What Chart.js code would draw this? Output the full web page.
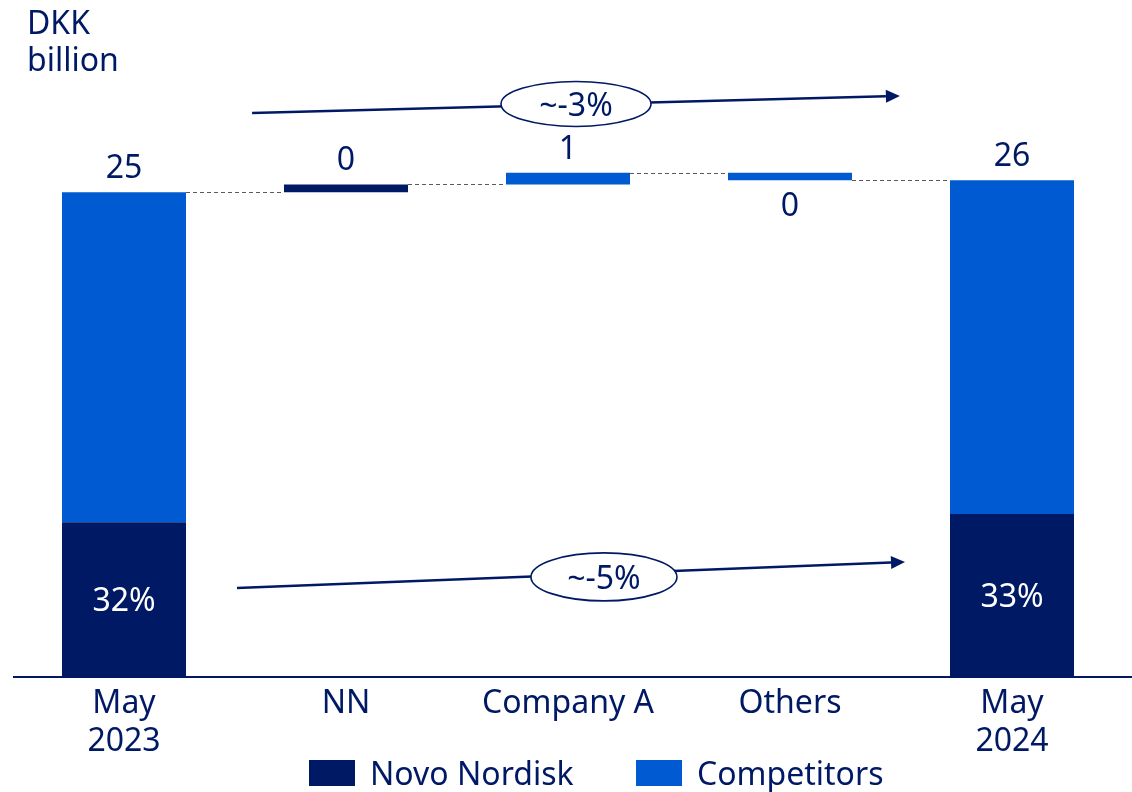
<!DOCTYPE html>
<html><head><meta charset="utf-8">
<script src="https://cdn.jsdelivr.net/npm/chart.js@4/dist/chart.umd.min.js"></script>
<style>
html,body{margin:0;padding:0;background:#fff;}
#wrap{position:relative;width:1132px;height:792px;font-family:'Noto Sans',sans-serif;color:#001965;overflow:hidden;}
#unit{position:absolute;left:27px;top:3px;font-size:32px;line-height:37px;}
.leg{position:absolute;top:751px;height:44px;display:flex;align-items:center;font-size:32px;line-height:44px;white-space:nowrap;}
.sw{display:inline-block;width:46px;height:26px;margin-right:15px;}
canvas{position:absolute;left:0;top:0;}
</style></head>
<body>
<div id="wrap">
<canvas id="c" width="1132" height="792"></canvas>
<div id="unit">DKK<br>billion</div>
<div class="leg" style="left:309px"><span class="sw" style="background:#001965"></span>Novo Nordisk</div>
<div class="leg" style="left:636px"><span class="sw" style="background:#005AD2"></span>Competitors</div>
</div>
<script>
// ---- data ----
const categories = [['May', '2023'], 'NN', 'Company A', 'Others', ['May', '2024']];
const totals = [25.0, null, null, null, 25.62];          // market size, DKK billion
const deltas = [null, 0.4, 0.6, -0.38, null];             // change by player
const deltaSeries = [null, 'Novo Nordisk', 'Competitors', 'Competitors', null];
const novoValue = [7.95, null, null, null, 8.37];         // Novo Nordisk part of totals
const changeLabels = ['~-3%', '~-5%'];
const seriesNames = ['Novo Nordisk', 'Competitors'];

const NAVY = '#001965', BLUE = '#005AD2';
const FONT = "'Noto Sans', sans-serif";

// ---- build floating bars ----
const novoData = [], compData = [], ranges = [], ends = [];
let cur = 0;
categories.forEach((c, i) => {
  if (totals[i] != null) {
    cur = totals[i];
    novoData.push([0, novoValue[i]]);
    compData.push([novoValue[i], totals[i]]);
    ranges.push([0, totals[i]]);
  } else {
    const s = cur; cur = cur + deltas[i];
    const r = [Math.min(s, cur), Math.max(s, cur)];
    if (deltaSeries[i] === seriesNames[0]) { novoData.push(r); compData.push(null); }
    else { novoData.push(null); compData.push(r); }
    ranges.push(r);
  }
  ends.push(cur);
});

const annot = [
  {from: [0.577, 29.09], to: [3.495, 29.97], oval: [2.036, 29.56], rx: 75, ry: 22.5, label: changeLabels[0]},
  {from: [0.509, 4.55], to: [3.518, 5.89], oval: [2.162, 5.12], rx: 73, ry: 24, label: changeLabels[1]}
];

const overlay = {
  id: 'overlay',
  afterDatasetsDraw(chart) {
    const ctx = chart.ctx, xs = chart.scales.x, ys = chart.scales.y;
    const ca = chart.chartArea;
    ctx.save();
    // axis line
    ctx.strokeStyle = NAVY; ctx.lineWidth = 2;
    ctx.beginPath(); ctx.moveTo(ca.left, ys.getPixelForValue(0) + 1); ctx.lineTo(chart.width, ys.getPixelForValue(0) + 1); ctx.stroke();

    const el = chart.getDatasetMeta(1).data[0];
    const hw = el.width / 2;

    // connectors
    ctx.strokeStyle = '#5a5a5a'; ctx.lineWidth = 1.2; ctx.setLineDash([4, 3]);
    for (let i = 0; i < categories.length - 1; i++) {
      const y = Math.round(ys.getPixelForValue(ends[i])) + 0.5;
      ctx.beginPath();
      ctx.moveTo(xs.getPixelForValue(i) + hw, y);
      ctx.lineTo(xs.getPixelForValue(i + 1) - hw, y);
      ctx.stroke();
    }
    ctx.setLineDash([]);

    // value labels
    ctx.font = '32px ' + FONT; ctx.textAlign = 'center'; ctx.textBaseline = 'alphabetic';
    ctx.fillStyle = NAVY;
    categories.forEach((c, i) => {
      const v = totals[i] != null ? totals[i] : deltas[i];
      const txt = String(Math.round(v) === 0 ? 0 : Math.round(v));
      const x = xs.getPixelForValue(i);
      if (v >= 0) ctx.fillText(txt, x, ys.getPixelForValue(ranges[i][1]) - 14);
      else ctx.fillText(txt, x, ys.getPixelForValue(ranges[i][0]) + 36);
    });
    // share labels
    ctx.fillStyle = '#ffffff';
    categories.forEach((c, i) => {
      if (totals[i] == null) return;
      const pct = Math.round(novoValue[i] / totals[i] * 100) + '%';
      const yc = (ys.getPixelForValue(0) + ys.getPixelForValue(novoValue[i])) / 2;
      ctx.fillText(pct, xs.getPixelForValue(i), yc + 12);
    });

    // arrows with ovals
    annot.forEach(a => {
      const x1 = xs.getPixelForValue(a.from[0]), y1 = ys.getPixelForValue(a.from[1]);
      const x2 = xs.getPixelForValue(a.to[0]), y2 = ys.getPixelForValue(a.to[1]);
      const ang = Math.atan2(y2 - y1, x2 - x1);
      const hl = 14, hwid = 6.5;
      ctx.strokeStyle = NAVY; ctx.fillStyle = NAVY; ctx.lineWidth = 2.5;
      ctx.beginPath(); ctx.moveTo(x1, y1);
      ctx.lineTo(x2 - hl * Math.cos(ang), y2 - hl * Math.sin(ang)); ctx.stroke();
      ctx.beginPath();
      ctx.moveTo(x2, y2);
      ctx.lineTo(x2 - hl * Math.cos(ang) + hwid * Math.sin(ang), y2 - hl * Math.sin(ang) - hwid * Math.cos(ang));
      ctx.lineTo(x2 - hl * Math.cos(ang) - hwid * Math.sin(ang), y2 - hl * Math.sin(ang) + hwid * Math.cos(ang));
      ctx.closePath(); ctx.fill();
      const cx = xs.getPixelForValue(a.oval[0]), cy = ys.getPixelForValue(a.oval[1]);
      ctx.beginPath(); ctx.ellipse(cx, cy, a.rx, a.ry, 0, 0, Math.PI * 2);
      ctx.fillStyle = '#ffffff'; ctx.fill();
      ctx.lineWidth = 1.6; ctx.strokeStyle = NAVY; ctx.stroke();
      ctx.fillStyle = NAVY; ctx.font = '32px ' + FONT;
      ctx.fillText(a.label, cx, cy + 12);
    });
    ctx.restore();
  }
};

new Chart(document.getElementById('c'), {
  type: 'bar',
  data: {
    labels: categories,
    datasets: [
      {label: seriesNames[0], data: novoData, backgroundColor: NAVY},
      {label: seriesNames[1], data: compData, backgroundColor: BLUE}
    ]
  },
  options: {
    responsive: false, animation: false, devicePixelRatio: 1,
    layout: {padding: {left: 13, right: 9, top: 18, bottom: 0}},
    datasets: {bar: {categoryPercentage: 1, barPercentage: 0.5586, borderWidth: 0}},
    plugins: {legend: {display: false}, tooltip: {enabled: false}},
    scales: {
      x: {
        stacked: true,
        grid: {display: false}, border: {display: false},
        ticks: {color: NAVY, font: {family: FONT, size: 32, lineHeight: 1.18}, padding: 1, maxRotation: 0, autoSkip: false},
        afterFit(s) { s.height = 116; }
      },
      y: {display: false, min: 0, max: 34, stacked: false}
    }
  },
  plugins: [overlay]
});
</script>
</body></html>
